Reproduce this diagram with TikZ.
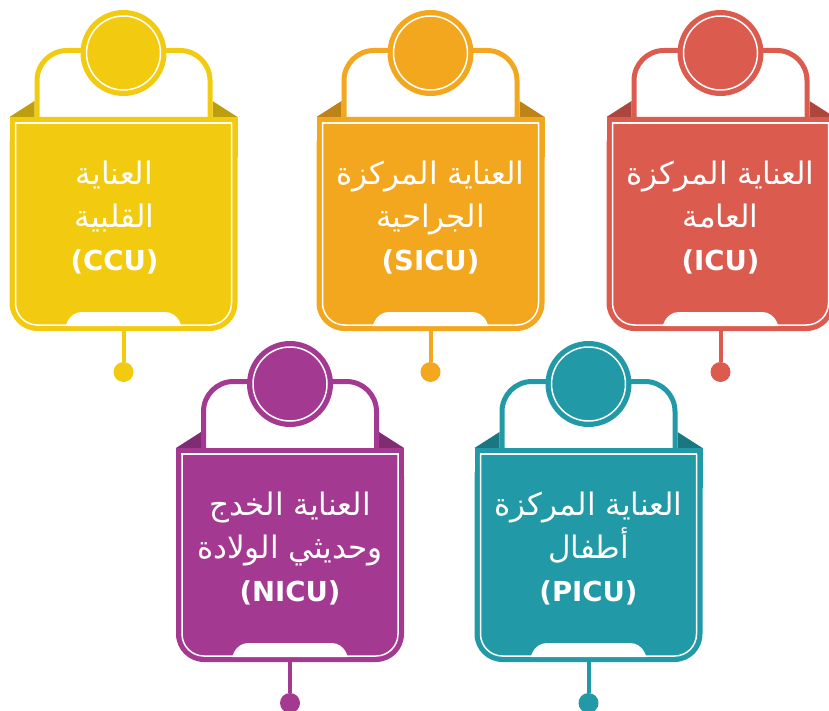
\documentclass[tikz,border=0pt]{standalone}
\usepackage{fontspec}
\setmainfont{DejaVu Sans}
\newfontfamily\arabicfont[Script=Arabic]{DejaVu Sans}
\TeXXeTstate=1

\definecolor{ccucol}{HTML}{F2CB10}
\definecolor{sicucol}{HTML}{F2A71F}
\definecolor{icucol}{HTML}{DC5B4F}
\definecolor{nicucol}{HTML}{A43992}
\definecolor{picucol}{HTML}{2199A6}
\newcommand\abbr[1]{{\fontsize{27.5}{43}\selectfont\bfseries #1}}

\begin{document}
\begin{tikzpicture}[
		x=1pt, y=-1pt,
		headdisc/.style={circle, inner sep=0pt, minimum size=86pt},
		footdot/.style={circle, inner sep=0pt, minimum size=20pt},
		cardtext/.style={text=white, align=center, font=\arabicfont\fontsize{31}{43}\selectfont},
		ring/.style={draw=white, line width=1.5pt},
		stem/.style={line width=4pt},
	]
		\useasboundingbox (0,0) rectangle (829,711);
		\clip (0,0) rectangle (829,711);

		\foreach \nm/\cx/\ty/\dx/\col/\txt in {
			ccu/123.5/117/-9/ccucol/{\beginR العناية\endR\\\beginR القلبية\endR\\\abbr{(CCU)}},
			sicu/430.5/117/0/sicucol/{\beginR العناية المركزة\endR\\\beginR الجراحية\endR\\\abbr{(SICU)}},
			icu/720.5/117/0/icucol/{\beginR العناية المركزة\endR\\\beginR العامة\endR\\\abbr{(ICU)}},
			nicu/290/448/0/nicucol/{\beginR العناية الخدج\endR\\\beginR وحديثي الولادة\endR\\\abbr{(NICU)}},
			picu/588.5/448/0/picucol/{\beginR العناية المركزة\endR\\\beginR أطفال\endR\\\abbr{(PICU)}}%
		}{
			% shoulders and handle
			\fill[\col!78!black, shift={(\cx,\ty)}] (-89,-16) -- (-114,0) -- (-89,0) -- cycle;
			\fill[\col!78!black, shift={(\cx,\ty)}] (89,-16) -- (114,0) -- (89,0) -- cycle;
			\draw[\col, line width=5pt, fill=white, rounded corners=30pt, shift={(\cx,\ty)}]
				(-86.5,10) -- (-86.5,-66.5) -- (86.5,-66.5) -- (86.5,10);
			% body
			\fill[\col, rounded corners=28pt, shift={(\cx,\ty)}] (-114,0) rectangle (114,214);
			\fill[\col, shift={(\cx,\ty)}] (-114,0) rectangle (114,40);
			\draw[white, line width=1.5pt, rounded corners=22pt, shift={(\cx,\ty)}]
				(-108,6) -- (-108,208) -- (108,208) -- (108,6);
			\draw[white, line width=1.5pt, line cap=rect, shift={(\cx,\ty)}] (-108,6) -- (108,6);
			\fill[white, rounded corners=10pt, shift={(\cx,\ty)}] (-58,209) -- (-52,195) -- (52,195) -- (58,209);
			% head, text and stem
			\node[headdisc, fill=\col] (\nm head) at (\cx,\ty-64) {};
			\draw[ring] (\nm head.center) circle[radius=37pt];
			\node[cardtext] (\nm text) at (\cx+\dx,\ty+101) {\txt};
			\coordinate (\nm foot) at (\cx,\ty+214);
			\node[footdot, fill=\col] (\nm dot) at (\cx,\ty+255) {};
			\draw[\col, stem] (\nm foot) -- (\nm dot);
		}
\end{tikzpicture}
\end{document}
